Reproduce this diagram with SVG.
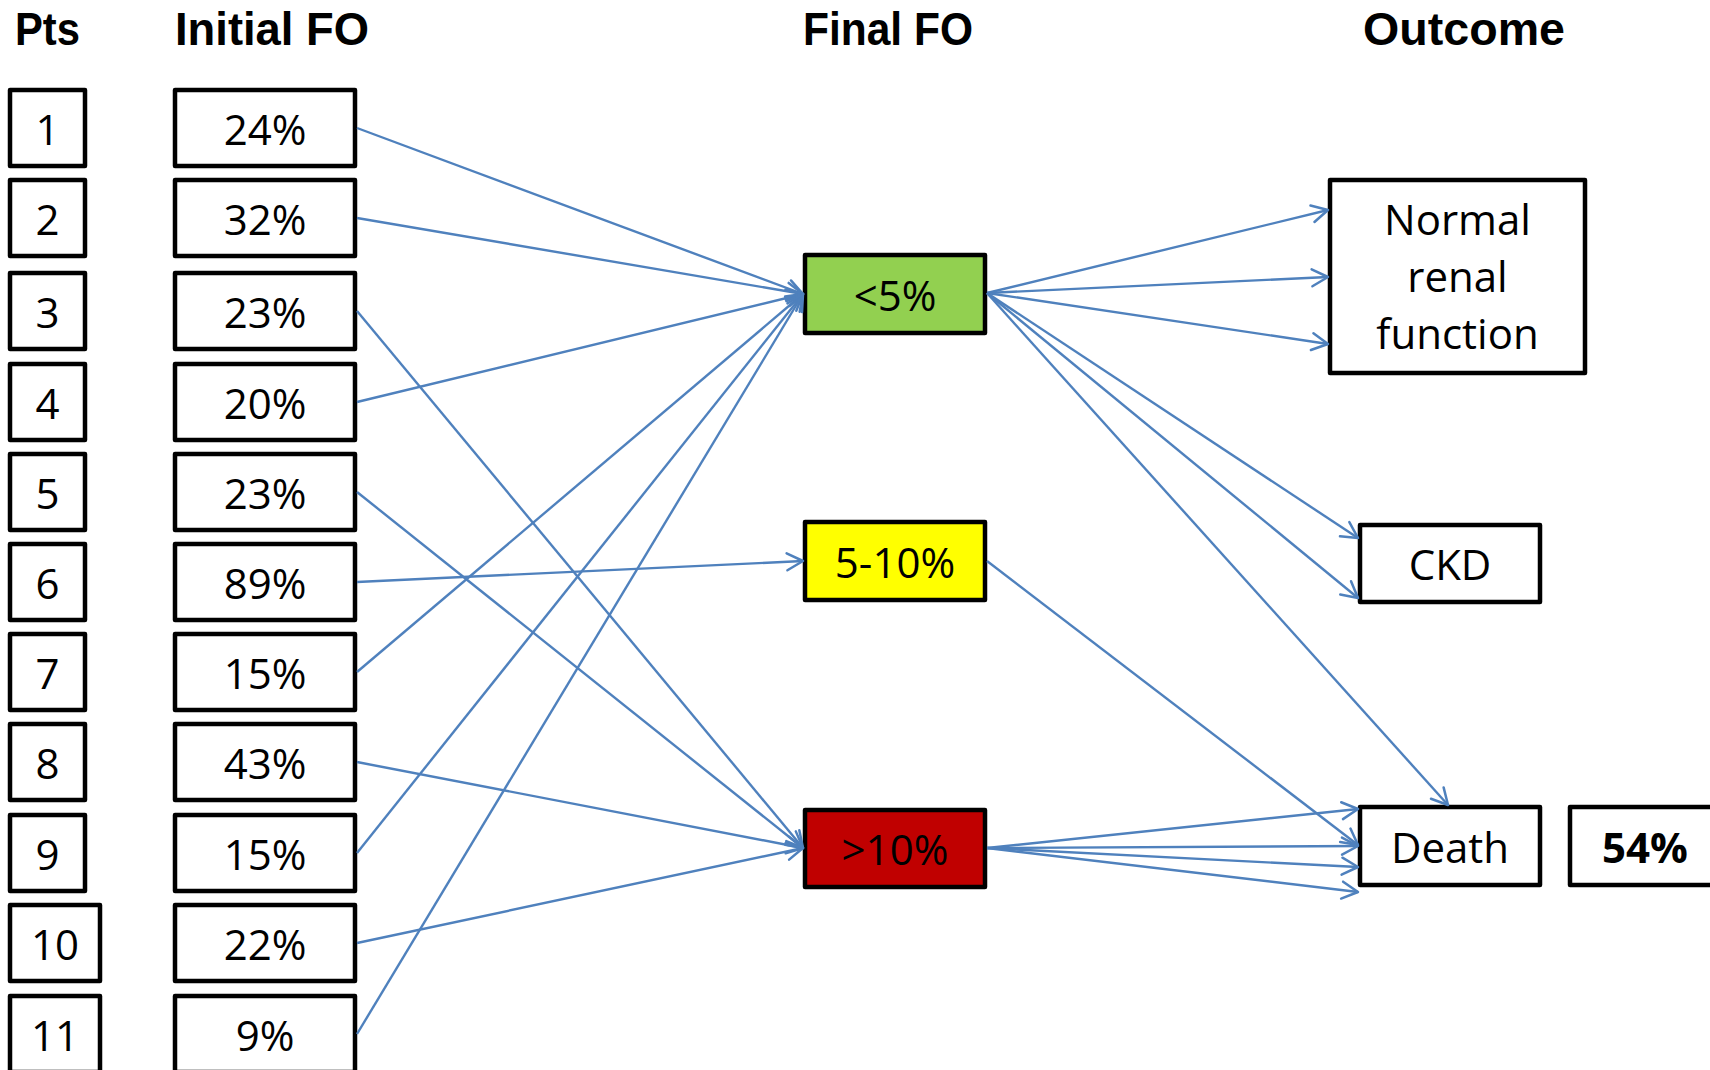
<svg xmlns="http://www.w3.org/2000/svg" width="1710" height="1070" viewBox="0 0 1710 1070">
<style>
  .box { fill: #ffffff; stroke: #000000; stroke-width: 4.5; stroke-linejoin: round; }
  .t { font-family: "Open Sans", "Liberation Sans", sans-serif; font-size: 42px; fill: #000000; text-anchor: middle; }
  .b { font-weight: bold; }
  .h { font-family: "Liberation Sans", Arial, sans-serif; font-size: 47px; font-weight: bold; fill: #000000; text-anchor: middle; }
  .c { fill: none; stroke: #4F81BD; stroke-width: 2.4; marker-end: url(#arr); }
</style>
<defs>
  <marker id="arr" markerUnits="userSpaceOnUse" markerWidth="24" markerHeight="24" refX="17" refY="9" orient="auto" overflow="visible">
    <path d="M1,0.5 L17,9 L1,17.5" fill="none" stroke="#4F81BD" stroke-width="2.5" stroke-linecap="round" stroke-linejoin="round"/>
  </marker>
</defs>
<rect width="1710" height="1070" fill="#ffffff"/>

<g id="headers">
  <text class="h" x="47.5" y="45" textLength="65" lengthAdjust="spacingAndGlyphs">Pts</text>
  <text class="h" x="272" y="45" textLength="194" lengthAdjust="spacingAndGlyphs">Initial FO</text>
  <text class="h" x="888" y="45" textLength="170" lengthAdjust="spacingAndGlyphs">Final FO</text>
  <text class="h" x="1464" y="45" textLength="202" lengthAdjust="spacingAndGlyphs">Outcome</text>
</g>

<g id="pt1"><rect class="box" x="10" y="90" width="75" height="76"/><text class="t" x="47.5" y="145">1</text></g>
<g id="pt2"><rect class="box" x="10" y="180" width="75" height="76"/><text class="t" x="47.5" y="235">2</text></g>
<g id="pt3"><rect class="box" x="10" y="273" width="75" height="76"/><text class="t" x="47.5" y="328">3</text></g>
<g id="pt4"><rect class="box" x="10" y="364" width="75" height="76"/><text class="t" x="47.5" y="419">4</text></g>
<g id="pt5"><rect class="box" x="10" y="454" width="75" height="76"/><text class="t" x="47.5" y="509">5</text></g>
<g id="pt6"><rect class="box" x="10" y="544" width="75" height="76"/><text class="t" x="47.5" y="599">6</text></g>
<g id="pt7"><rect class="box" x="10" y="634" width="75" height="76"/><text class="t" x="47.5" y="689">7</text></g>
<g id="pt8"><rect class="box" x="10" y="724" width="75" height="76"/><text class="t" x="47.5" y="779">8</text></g>
<g id="pt9"><rect class="box" x="10" y="815" width="75" height="76"/><text class="t" x="47.5" y="870">9</text></g>
<g id="pt10"><rect class="box" x="10" y="905" width="90" height="76"/><text class="t" x="55" y="960">10</text></g>
<g id="pt11"><rect class="box" x="10" y="996" width="90" height="76"/><text class="t" x="55" y="1051">11</text></g>

<g id="fo1"><rect class="box" x="175" y="90" width="180" height="76"/><text class="t" x="265" y="145">24%</text></g>
<g id="fo2"><rect class="box" x="175" y="180" width="180" height="76"/><text class="t" x="265" y="235">32%</text></g>
<g id="fo3"><rect class="box" x="175" y="273" width="180" height="76"/><text class="t" x="265" y="328">23%</text></g>
<g id="fo4"><rect class="box" x="175" y="364" width="180" height="76"/><text class="t" x="265" y="419">20%</text></g>
<g id="fo5"><rect class="box" x="175" y="454" width="180" height="76"/><text class="t" x="265" y="509">23%</text></g>
<g id="fo6"><rect class="box" x="175" y="544" width="180" height="76"/><text class="t" x="265" y="599">89%</text></g>
<g id="fo7"><rect class="box" x="175" y="634" width="180" height="76"/><text class="t" x="265" y="689">15%</text></g>
<g id="fo8"><rect class="box" x="175" y="724" width="180" height="76"/><text class="t" x="265" y="779">43%</text></g>
<g id="fo9"><rect class="box" x="175" y="815" width="180" height="76"/><text class="t" x="265" y="870">15%</text></g>
<g id="fo10"><rect class="box" x="175" y="905" width="180" height="76"/><text class="t" x="265" y="960">22%</text></g>
<g id="fo11"><rect class="box" x="175" y="996" width="180" height="76"/><text class="t" x="265" y="1051">9%</text></g>

<g id="final-lt5"><rect class="box" x="805" y="255" width="180" height="78" style="fill:#92D050"/><text class="t" x="895" y="311">&lt;5%</text></g>
<g id="final-5to10"><rect class="box" x="805" y="522" width="180" height="78" style="fill:#FFFF00"/><text class="t" x="895" y="578">5-10%</text></g>
<g id="final-gt10"><rect class="box" x="805" y="810" width="180" height="77" style="fill:#C00000"/><text class="t" x="895" y="865">&gt;10%</text></g>

<g id="out-normal"><rect class="box" x="1330" y="180" width="255" height="193"/>
  <text class="t" x="1457.5" y="235">Normal</text>
  <text class="t" x="1457.5" y="292">renal</text>
  <text class="t" x="1457.5" y="349">function</text>
</g>
<g id="out-ckd"><rect class="box" x="1360" y="525" width="180" height="77"/><text class="t" x="1450" y="580">CKD</text></g>
<g id="out-death"><rect class="box" x="1360" y="807" width="180" height="78"/><text class="t" x="1450" y="863">Death</text></g>
<g id="pct-death"><rect class="box" x="1570" y="807" width="150" height="78"/><text class="t b" x="1645" y="863">54%</text></g>

<g id="connectors">
  <line class="c" x1="357" y1="128" x2="803" y2="294"/>
  <line class="c" x1="357" y1="218" x2="803" y2="294"/>
  <line class="c" x1="357" y1="311" x2="803" y2="848"/>
  <line class="c" x1="357" y1="402" x2="803" y2="294"/>
  <line class="c" x1="357" y1="492" x2="803" y2="848"/>
  <line class="c" x1="357" y1="582" x2="803" y2="561"/>
  <line class="c" x1="357" y1="672" x2="803" y2="294"/>
  <line class="c" x1="357" y1="762" x2="803" y2="848"/>
  <line class="c" x1="357" y1="853" x2="803" y2="294"/>
  <line class="c" x1="357" y1="943" x2="803" y2="848"/>
  <line class="c" x1="357" y1="1034" x2="803" y2="294"/>

  <line class="c" x1="987" y1="293" x2="1328" y2="210"/>
  <line class="c" x1="987" y1="293" x2="1328" y2="277"/>
  <line class="c" x1="987" y1="293" x2="1328" y2="344"/>
  <line class="c" x1="987" y1="293" x2="1358" y2="538"/>
  <line class="c" x1="987" y1="293" x2="1358" y2="598"/>
  <line class="c" x1="987" y1="293" x2="1448" y2="805"/>

  <line class="c" x1="987" y1="561" x2="1358" y2="845"/>

  <line class="c" x1="987" y1="848" x2="1358" y2="809"/>
  <line class="c" x1="987" y1="848" x2="1358" y2="846"/>
  <line class="c" x1="987" y1="848" x2="1358" y2="867"/>
  <line class="c" x1="987" y1="848" x2="1358" y2="892"/>
</g>
</svg>
